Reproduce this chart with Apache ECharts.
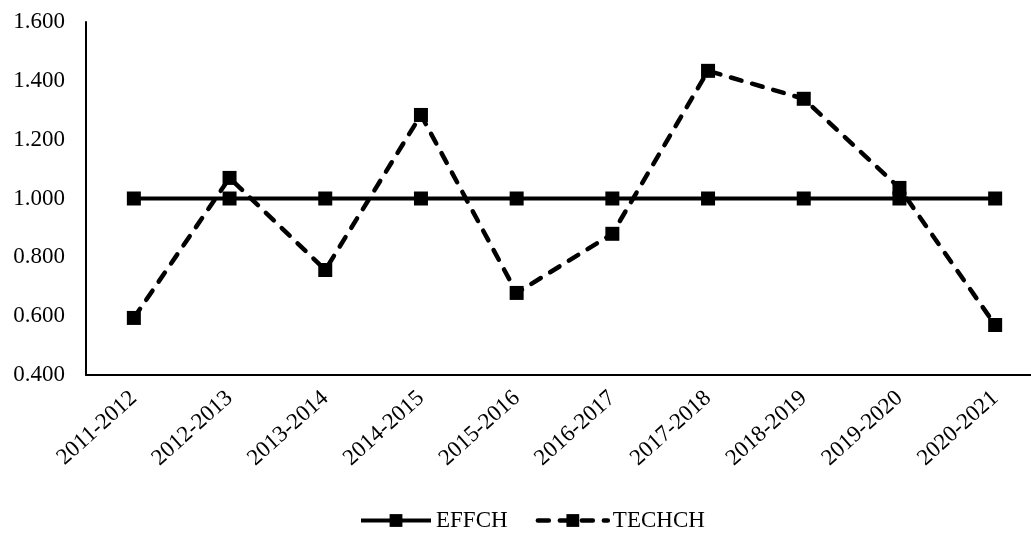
<!DOCTYPE html>
<html><head><meta charset="utf-8">
<script src="https://cdn.jsdelivr.net/npm/echarts@6/dist/echarts.min.js"></script>
<style>html,body{margin:0;padding:0;background:#fff;overflow:hidden}#c{width:1043px;height:552px}</style>
</head><body><div id="c"></div>
<script>
const categories = ['2011-2012','2012-2013','2013-2014','2014-2015','2015-2016','2016-2017','2017-2018','2018-2019','2019-2020','2020-2021'];
const effch = [1.000,1.000,1.000,1.000,1.000,1.000,1.000,1.000,1.000,1.000];
const techch = [0.594,1.070,0.757,1.284,0.679,0.880,1.434,1.339,1.036,0.570];
const yTicks = {min:0.4, max:1.6, interval:0.2};
const font = '"Liberation Serif","Times New Roman",serif';
const chart = echarts.init(document.getElementById('c'));
chart.setOption({
  animation:false,
  grid:{left:86, top:22, right:0, bottom:177},
  legend:{
    left:354, top:504, itemWidth:70, itemHeight:16, itemGap:28,
    textStyle:{fontFamily:font, fontSize:23, color:'#000'},
    data:[
      {name:'EFFCH', lineStyle:{width:4, color:'#000'}},
      {name:'TECHCH', lineStyle:{width:4.5, color:'#000', type:[11,11], cap:'round'}}
    ]
  },
  xAxis:{
    type:'category', data:categories, boundaryGap:true,
    axisLine:{lineStyle:{color:'#000', width:2}},
    axisTick:{show:false},
    axisLabel:{rotate:42, interval:0, fontFamily:font, fontSize:23, color:'#000', margin:20}
  },
  yAxis:{
    type:'value', min:yTicks.min, max:yTicks.max, interval:yTicks.interval,
    axisLine:{show:true, lineStyle:{color:'#000', width:2}},
    axisTick:{show:false}, splitLine:{show:false},
    axisLabel:{fontFamily:font, fontSize:23, color:'#000', margin:21,
      formatter:v=>v.toFixed(3)}
  },
  series:[
    {name:'EFFCH', type:'line', data:effch, symbol:'rect', symbolSize:14,
     lineStyle:{color:'#000', width:4}, itemStyle:{color:'#000'}},
    {name:'TECHCH', type:'line', data:techch, symbol:'rect', symbolSize:14,
     lineStyle:{color:'#000', width:4.5, type:[11,11], cap:'round'}, itemStyle:{color:'#000'}}
  ]
});
</script></body></html>
